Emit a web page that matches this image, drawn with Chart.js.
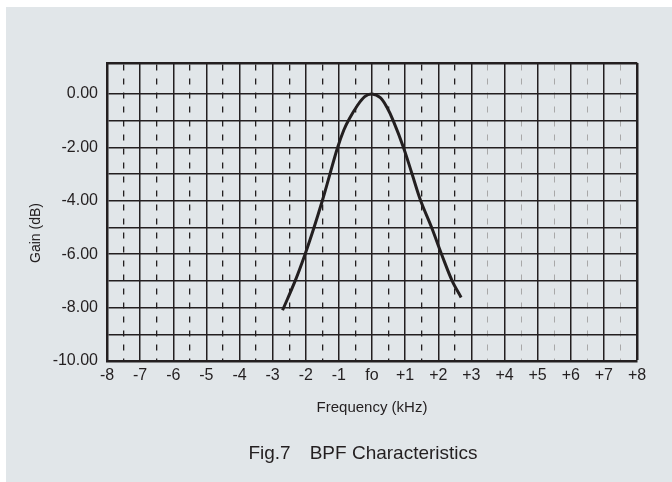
<!DOCTYPE html>
<html>
<head>
<meta charset="utf-8">
<script src="https://cdn.jsdelivr.net/npm/chart.js@4.4.0/dist/chart.umd.min.js"></script>
<style>
    html, body { margin: 0; padding: 0; background: #fff; }
    #panel { position: absolute; left: 6px; top: 7px; width: 666px; height: 475px; background: #e1e6e9; }
    .txt { position: absolute; color: #231f20; font-family: "Liberation Sans", Arial, sans-serif; text-align: center; white-space: pre; }
    #ytitle { left: -25px; top: 225px; width: 120px; font-size: 14px; line-height: 16px; transform: rotate(-90deg); }
    #caption { left: 163px; top: 442px; width: 400px; font-size: 19px; line-height: 22px; }
</style>
</head>
<body>
<div id="panel"><canvas id="bpfChart" width="666" height="475"></canvas></div>
<div class="txt" id="ytitle">Gain (dB)</div>
<div class="txt" id="caption">Fig.7&emsp;BPF Characteristics</div>
<script>
// response (kHz from fo, dB)
var freqs = [-2.70, -2.32, -2.02, -1.75, -1.50, -1.27, -1.05, -0.85, -0.68, -0.45, -0.22, 0, 0.25, 0.45, 0.64, 0.95, 1.21, 1.47, 1.80, 2.10, 2.42, 2.69];
var gains = [-8.10, -7.00, -6.00, -5.00, -4.00, -3.00, -2.05, -1.35, -0.92, -0.45, -0.10, 0, -0.14, -0.50, -1.00, -2.00, -3.00, -4.00, -5.00, -6.00, -7.00, -7.62];

var xTicks = [-8, -7, -6, -5, -4, -3, -2, -1, 0, 1, 2, 3, 4, 5, 6, 7, 8];
var xLabels = ["-8", "-7", "-6", "-5", "-4", "-3", "-2", "-1", "fo", "+1", "+2", "+3", "+4", "+5", "+6", "+7", "+8"];
var minorTicks = [-7.5, -6.5, -5.5, -4.5, -3.5, -2.5, -1.5, -0.5, 0.5, 1.5, 2.5, 3.5, 4.5, 5.5, 6.5, 7.5];
var yTicks = [-10, -9, -8, -7, -6, -5, -4, -3, -2, -1, 0];
var yLabels = ["-10.00", "", "-8.00", "", "-6.00", "", "-4.00", "", "-2.00", "", "0.00"];

var ink = "#231f20";
var font = "'Liberation Sans', Arial, sans-serif";

var points = freqs.map(function (f, i) {
    return { x: f, y: gains[i] };
});

var ctx = document.getElementById("bpfChart").getContext("2d");
new Chart(ctx, {
    type: "line",
    data: {
        datasets: [{
            data: points,
            borderColor: ink,
            borderWidth: 3,
            pointRadius: 0,
            fill: false,
            tension: 0.35
        }]
    },
    options: {
        responsive: false,
        devicePixelRatio: 1,
        animation: false,
        layout: { padding: { left: 0, right: 35, top: 56, bottom: 61 } },
        plugins: {
            legend: { display: false },
            tooltip: { enabled: false }
        },
        scales: {
            x: {
                type: "linear",
                position: "bottom",
                min: -8,
                max: 8,
                afterBuildTicks: function (scale) {
                    scale.ticks = xTicks.map(function (v) { return { value: v }; });
                },
                afterFit: function (scale) { scale.height = 60; },
                ticks: {
                    padding: 5,
                    color: ink,
                    font: { family: font, size: 16 },
                    callback: function (v) { return xLabels[xTicks.indexOf(v)]; }
                },
                grid: {
                    drawTicks: false,
                    color: ink,
                    lineWidth: function (c) { return c.tick && c.tick.value === 8 ? 2.5 : 1.5; }
                },
                border: { display: true, color: ink, width: 2.5 },
                title: {
                    display: true,
                    text: "Frequency (kHz)",
                    color: ink,
                    font: { family: font, size: 15 },
                    padding: { top: 0, bottom: 4 }
                }
            },
            // half-kHz dashed lines, paler above +3
            minor: {
                type: "linear",
                position: "top",
                min: -8,
                max: 8,
                afterBuildTicks: function (scale) {
                    scale.ticks = minorTicks.map(function (v) { return { value: v }; });
                },
                ticks: { display: false },
                grid: {
                    drawTicks: false,
                    color: function (c) { return c.tick && c.tick.value > 3 ? "#a8a8a8" : ink; },
                    lineWidth: function (c) { return c.tick && c.tick.value > 3 ? 1 : 1.3; }
                },
                border: { display: true, color: ink, width: 2.5, dash: [6, 8] }
            },
            y: {
                type: "linear",
                position: "left",
                min: -10,
                max: 1.16,
                afterBuildTicks: function (scale) {
                    scale.ticks = yTicks.map(function (v) { return { value: v }; });
                },
                afterFit: function (scale) { scale.width = 101; },
                ticks: {
                    padding: 9,
                    color: ink,
                    font: { family: font, size: 16 },
                    callback: function (v) { return yLabels[yTicks.indexOf(v)]; }
                },
                grid: { drawTicks: false, color: ink, lineWidth: 1.5 },
                border: { display: true, color: ink, width: 2.5 }
            }
        }
    }
});
</script>
</body>
</html>
